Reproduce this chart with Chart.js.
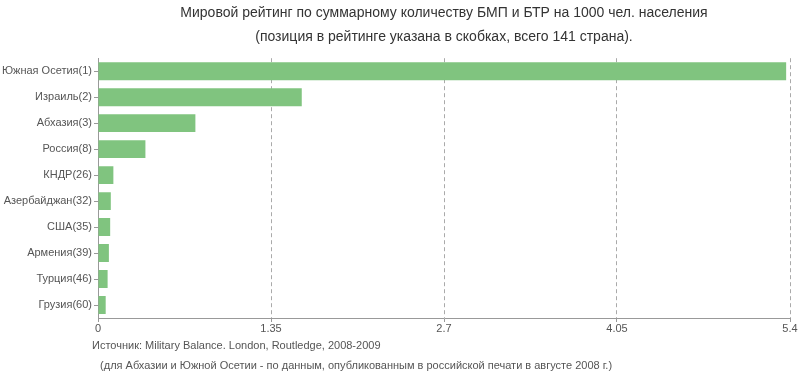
<!DOCTYPE html>
<html>
<head>
<meta charset="utf-8">
<script src="https://cdn.jsdelivr.net/npm/chart.js@4/dist/chart.umd.min.js"></script>
<style>
  html, body { margin: 0; padding: 0; background: #fff; }
  #wrap { width: 800px; height: 375px; position: relative; }
</style>
</head>
<body>
<div id="wrap"><canvas id="myChart"></canvas></div>
<script>
// data
var countries = ['Южная Осетия(1)', 'Израиль(2)', 'Абхазия(3)', 'Россия(8)', 'КНДР(26)',
    'Азербайджан(32)', 'США(35)', 'Армения(39)', 'Турция(46)', 'Грузия(60)'];
var values = [5.37, 1.59, 0.76, 0.37, 0.12, 0.10, 0.095, 0.085, 0.075, 0.06];
var tickValues = [0, 1.35, 2.7, 4.05, 5.4];
var titleLines = ['Мировой рейтинг по суммарному количеству БМП и БТР на 1000 чел. населения',
    '(позиция в рейтинге указана в скобках, всего 141 страна).'];
var footerLines = ['Источник: Military Balance. London, Routledge, 2008-2009',
    ' (для Абхазии и Южной Осетии - по данным, опубликованным в российской печати в августе 2008 г.)'];

var FONT = '"Liberation Sans", Arial, Helvetica, sans-serif';

// footnote under the x axis
var footerPlugin = {
    id: 'footer',
    afterDraw: function (chart) {
        var ctx = chart.ctx;
        ctx.save();
        ctx.font = '11px ' + FONT;
        ctx.fillStyle = '#555';
        ctx.textBaseline = 'middle';
        ctx.textAlign = 'left';
        ctx.fillText(footerLines[0], chart.chartArea.left - 6, 346);
        ctx.fillText(footerLines[1], chart.chartArea.left - 1, 366);
        ctx.restore();
    }
};

var ctx = document.getElementById('myChart').getContext('2d');

new Chart(ctx, {
    type: 'bar',
    data: {
        labels: countries,
        datasets: [{
            data: values,
            backgroundColor: '#80c47f',
            hoverBackgroundColor: '#80c47f',
            categoryPercentage: 1,
            barPercentage: 0.69
        }]
    },
    options: {
        indexAxis: 'y',
        responsive: true,
        maintainAspectRatio: false,
        animation: false,
        layout: { padding: { top: 0, right: 10, bottom: 37, left: 0 } },
        plugins: {
            legend: { display: false },
            tooltip: { enabled: false },
            title: {
                display: true,
                text: titleLines,
                fullSize: false,
                color: '#333',
                font: { family: FONT, size: 14, weight: 'normal', lineHeight: 1.65 },
                padding: { top: 2, bottom: 10 }
            }
        },
        scales: {
            x: {
                min: 0,
                max: 5.4,
                afterBuildTicks: function (scale) {
                    scale.ticks = tickValues.map(function (v) { return { value: v }; });
                },
                afterFit: function (scale) { scale.height = 20; },
                ticks: {
                    color: '#555',
                    font: { family: FONT, size: 11 },
                    padding: 0,
                    maxRotation: 0,
                    callback: function (v) { return String(v); }
                },
                grid: {
                    color: function (c) { return c.tick && c.tick.value === 0 ? 'rgba(0,0,0,0)' : '#aaa'; },
                    tickColor: '#999',
                    tickLength: 4,
                    lineWidth: 1
                },
                border: { display: true, color: '#999', dash: [4, 3] }
            },
            y: {
                afterFit: function (scale) { scale.width = 98; },
                ticks: {
                    color: '#555',
                    font: { family: FONT, size: 11 },
                    padding: 2
                },
                grid: {
                    drawOnChartArea: false,
                    drawTicks: true,
                    tickLength: 4,
                    tickColor: '#999',
                    offset: false
                },
                border: { display: true, color: '#999' }
            }
        }
    },
    plugins: [footerPlugin]
});
</script>
</body>
</html>
